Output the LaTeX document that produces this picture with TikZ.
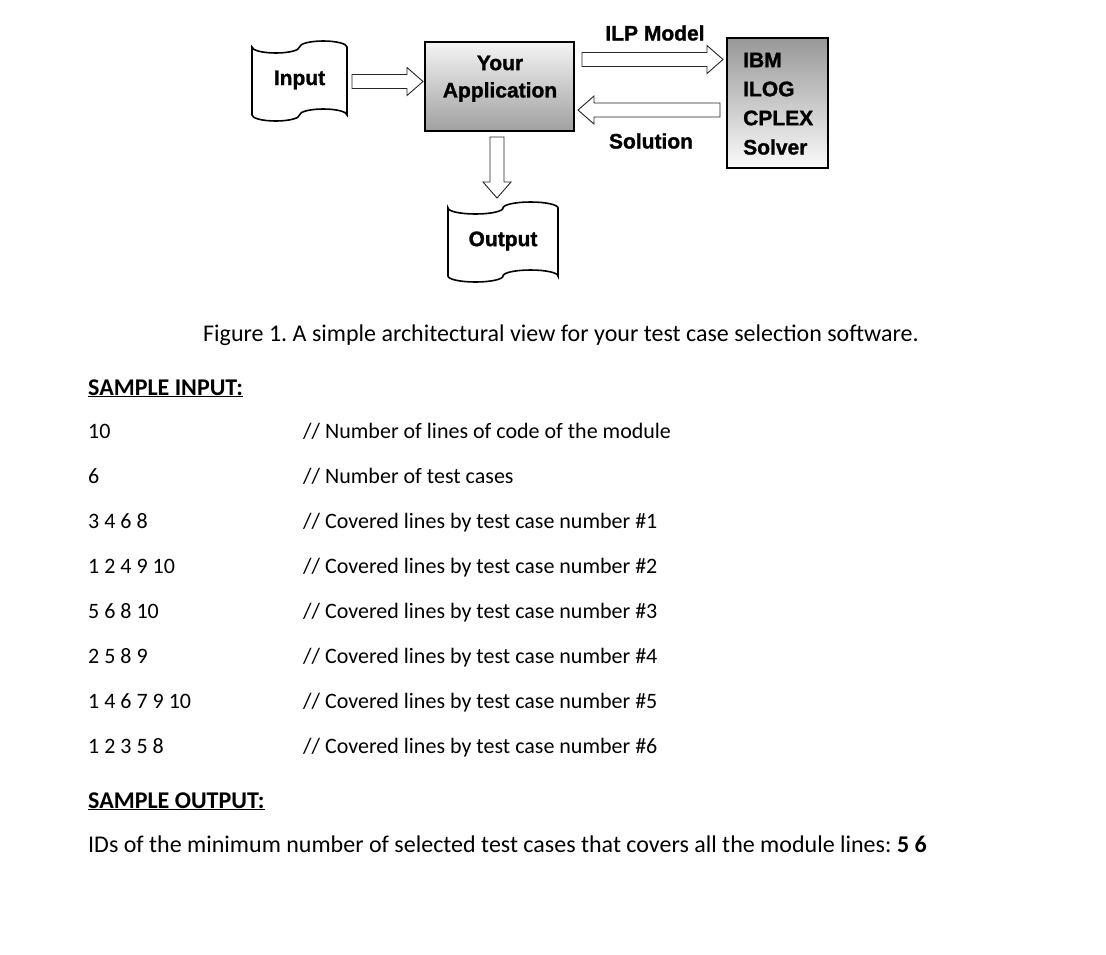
\documentclass[tikz,border=0pt]{standalone}
\usepackage{fontspec}
\setmainfont{Carlito}
\newfontfamily\diagfont[BoldFeatures={FakeBold=1.2}]{Liberation Sans}
\usetikzlibrary{calc}
\frenchspacing
\definecolor{apptop}{HTML}{F4F4F4}
\definecolor{appbot}{HTML}{A0A0A0}
\definecolor{ibmtop}{HTML}{989898}
\definecolor{ibmbot}{HTML}{FAFAFA}
\newcommand\blockarrow[2]{%
  \coordinate (bh) at ($(#2)!16pt!(#1)$);
  \draw[barrow] ($(#1)!7pt!90:(#2)$) -- ($(bh)!7pt!90:(#2)$) -- ($(bh)!14pt!90:(#2)$)
    -- (#2) -- ($(bh)!14pt!-90:(#2)$) -- ($(bh)!7pt!-90:(#2)$) -- ($(#1)!7pt!-90:(#2)$) -- cycle;}
\newcommand\tapeshape[5]{%
  \draw[tapeline] (#1,#3)
    arc[start angle=180,end angle=0,x radius={(#2-#1)/4},y radius=#5]
    arc[start angle=180,end angle=360,x radius={(#2-#1)/4},y radius=#5]
    -- (#2,#4)
    arc[start angle=0,end angle=-180,x radius={(#2-#1)/4},y radius=#5]
    arc[start angle=0,end angle=180,x radius={(#2-#1)/4},y radius=#5]
    -- cycle;}
\begin{document}
\begin{tikzpicture}[x=1pt,y=-1pt,
  lbl/.style={font=\diagfont\bfseries\fontsize{21}{24}\selectfont, inner sep=0pt},
  txt/.style={font=\fontsize{22}{26}\selectfont, inner sep=0pt, anchor=base west},
  bigtxt/.style={font=\fontsize{24}{28}\selectfont, inner sep=0pt, anchor=base west},
  barrow/.style={draw=black!85, line width=0.9pt, fill=white, line join=miter},
  tapeline/.style={draw=black, line width=1.6pt, fill=white},
  gbox/.style={draw=black, line width=1.3pt, inner sep=0pt}]
\useasboundingbox[fill=white] (0,0) rectangle (1106,954);

% --- diagram ---
\tapeshape{252}{347}{47}{115}{6}
\node[lbl] (input) at (299.5,80) {Input};

\node[gbox, top color=apptop, bottom color=appbot, minimum width=149pt, minimum height=89pt]
  (app) at (499.5,86.5) {};
\node[lbl] (your) at (500,63) {Your};
\node[lbl] (appl) at (500,92) {Application};

\node[gbox, top color=ibmtop, bottom color=ibmbot, minimum width=101pt, minimum height=130pt]
  (cplex) at (777.5,103) {};
\node[lbl, anchor=west] (ibm) at (743,60) {IBM};
\node[lbl, anchor=west] (ilog) at (743,89) {ILOG};
\node[lbl, anchor=west] (cpx) at (743,118) {CPLEX};
\node[lbl, anchor=west] (solver) at (743,147) {Solver};

\node[lbl] (ilpm) at (655,33) {ILP Model};
\node[lbl] (soln) at (651,141) {Solution};

\tapeshape{448}{558}{208}{276}{6}
\node[lbl] (output) at (503,241) {Output};

\coordinate (a1t) at (352,81.5);  \coordinate (a1h) at (423,81.5);
\coordinate (a2t) at (582,59.5);  \coordinate (a2h) at (723,59.5);
\coordinate (a3t) at (720,110);   \coordinate (a3h) at (578,110);
\coordinate (a4t) at (497,137);   \coordinate (a4h) at (497,198);
\blockarrow{a1t}{a1h}
\blockarrow{a2t}{a2h}
\blockarrow{a3t}{a3h}
\blockarrow{a4t}{a4h}

% --- text ---
\node[bigtxt] (cap) at (203,341) {Figure 1. A simple architectural view for your test case selection software.};
\node[bigtxt] (sin) at (88,395) {\textbf{\underline{SAMPLE INPUT:}}};

\node[txt] (l1) at (88,438) {10};
\node[txt] (l2) at (88,483) {6};
\node[txt] (l3) at (88,528) {3 4 6 8};
\node[txt] (l4) at (88,573) {1 2 4 9 10};
\node[txt] (l5) at (88,618) {5 6 8 10};
\node[txt] (l6) at (88,663) {2 5 8 9};
\node[txt] (l7) at (88,708) {1 4 6 7 9 10};
\node[txt] (l8) at (88,753) {1 2 3 5 8};

\node[txt] (c1) at (303,438) {// Number of lines of code of the module};
\node[txt] (c2) at (303,483) {// Number of test cases};
\node[txt] (c3) at (303,528) {// Covered lines by test case number \#1};
\node[txt] (c4) at (303,573) {// Covered lines by test case number \#2};
\node[txt] (c5) at (303,618) {// Covered lines by test case number \#3};
\node[txt] (c6) at (303,663) {// Covered lines by test case number \#4};
\node[txt] (c7) at (303,708) {// Covered lines by test case number \#5};
\node[txt] (c8) at (303,753) {// Covered lines by test case number \#6};

\node[bigtxt] (sout) at (88,808) {\textbf{\underline{SAMPLE OUTPUT:}}};
\node[bigtxt] (ids) at (88,852) {IDs of the minimum number of selected test cases that covers all the module lines: \textbf{5 6}};
\end{tikzpicture}
\end{document}
